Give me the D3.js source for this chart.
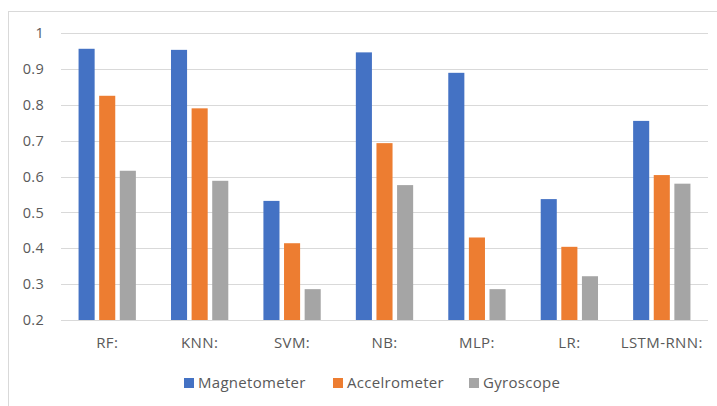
<!DOCTYPE html>
<html>
<head>
<meta charset="utf-8">
<script src="https://cdn.jsdelivr.net/npm/d3@7"></script>
<style>
  html, body { margin: 0; padding: 0; background: #ffffff; }
  svg { display: block; }
  text { font-family: "Open Sans", Lato, sans-serif; fill: #595959; }
</style>
</head>
<body>
<svg id="chart" width="717" height="406"></svg>
<script>
// Classifier accuracy per sensor
const categories = ["RF:", "KNN:", "SVM:", "NB:", "MLP:", "LR:", "LSTM-RNN:"];
const seriesNames = ["Magnetometer", "Accelrometer", "Gyroscope"];
const magnetometer = [0.956, 0.953, 0.532, 0.946, 0.889, 0.537, 0.755];
const accelrometer = [0.825, 0.790, 0.414, 0.693, 0.430, 0.404, 0.604];
const gyroscope    = [0.616, 0.588, 0.286, 0.576, 0.286, 0.322, 0.580];
const yTicks = [0.2, 0.3, 0.4, 0.5, 0.6, 0.7, 0.8, 0.9, 1];
const colors = ["#4472c4", "#ed7d31", "#a5a5a5"];

const series = [magnetometer, accelrometer, gyroscope];
const fontFamily = "'Open Sans', Lato, sans-serif";

const svg = d3.select("#chart");

// outer chart frame
svg.append("rect")
  .attr("x", 8.5).attr("y", 11.5)
  .attr("width", 740).attr("height", 420)
  .attr("fill", "#ffffff")
  .attr("stroke", "#d9d9d9")
  .attr("stroke-width", 1);

const plot = { left: 61, right: 708, top: 33, bottom: 320 };

const x = d3.scaleBand()
  .domain(categories)
  .range([plot.left, plot.right])
  .paddingInner(0.38)
  .paddingOuter(0.19);

const x1 = d3.scaleBand()
  .domain(seriesNames)
  .range([0, x.bandwidth()])
  .paddingInner(0.22);

const y = d3.scaleLinear()
  .domain([0.2, 1])
  .range([plot.bottom, plot.top]);

// gridlines
svg.append("g")
  .selectAll("line")
  .data(yTicks)
  .join("line")
  .attr("x1", plot.left).attr("x2", plot.right)
  .attr("y1", d => Math.round(y(d)) + 0.5)
  .attr("y2", d => Math.round(y(d)) + 0.5)
  .attr("stroke", "#d9d9d9")
  .attr("stroke-width", 1);

// y axis labels
const yAxis = d3.axisLeft(y).tickValues(yTicks).tickSize(0).tickPadding(0)
  .tickFormat(d => d3.format("")(d));
svg.append("g")
  .attr("transform", `translate(${44},0)`)
  .call(yAxis)
  .call(g => g.select(".domain").remove())
  .call(g => g.selectAll("text")
    .attr("font-size", 14.5)
    .attr("letter-spacing", "0.3px")
    .attr("font-family", fontFamily)
    .attr("fill", "#595959"));

// bars
const groups = svg.append("g")
  .selectAll("g")
  .data(categories)
  .join("g")
  .attr("transform", d => `translate(${x(d)},0)`);

groups.selectAll("rect")
  .data((c, i) => series.map((s, k) => ({ name: seriesNames[k], value: s[i], k })))
  .join("rect")
  .attr("x", d => x1(d.name))
  .attr("y", d => y(d.value))
  .attr("width", x1.bandwidth())
  .attr("height", d => y(0.2) - y(d.value))
  .attr("fill", d => colors[d.k]);

// baseline
svg.append("line")
  .attr("x1", plot.left).attr("x2", plot.right)
  .attr("y1", Math.round(y(0.2)) + 0.5).attr("y2", Math.round(y(0.2)) + 0.5)
  .attr("stroke", "#d9d9d9");

// category axis
const xAxis = d3.axisBottom(x).tickSize(0).tickPadding(0);
svg.append("g")
  .attr("transform", `translate(0,${337})`)
  .call(xAxis)
  .call(g => g.select(".domain").remove())
  .call(g => g.selectAll("text")
    .attr("font-size", 15)
    .attr("letter-spacing", "0.4px")
    .attr("font-family", fontFamily)
    .attr("fill", "#595959"));

// legend
const legendX = [184, 333, 469];
const legend = svg.append("g")
  .selectAll("g")
  .data(seriesNames)
  .join("g")
  .attr("transform", (d, i) => `translate(${legendX[i]},${378})`);
legend.append("rect")
  .attr("width", 10).attr("height", 10)
  .attr("fill", (d, i) => colors[i]);
legend.append("text")
  .attr("x", 14).attr("y", 5)
  .attr("dy", "0.35em")
  .attr("font-size", 15)
  .attr("letter-spacing", "0.3px")
  .text(d => d);
</script>
</body>
</html>
